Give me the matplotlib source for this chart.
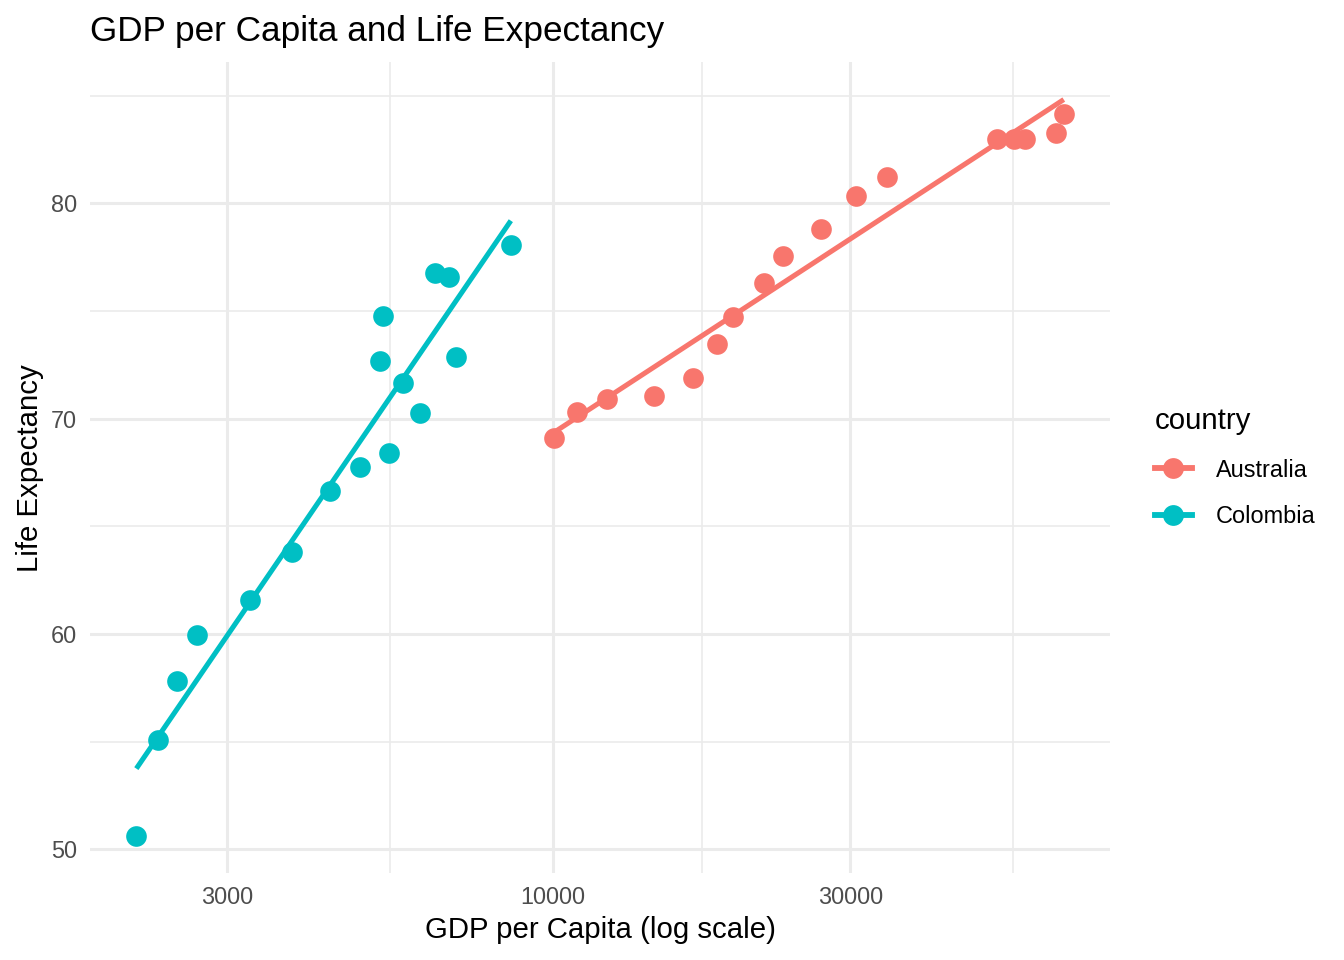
import numpy as np
import matplotlib.pyplot as plt
from matplotlib.lines import Line2D

plt.rcParams['font.family'] = ['Liberation Sans', 'DejaVu Sans']

# gdp per capita and life expectancy
aus_gdp = [10025, 10927, 12192, 14504, 16756, 18305, 19424, 21840, 23388,
           26915, 30590, 34356, 51696, 54906, 57272, 64217, 66046]
aus_life = [69.10, 70.31, 70.91, 71.07, 71.91, 73.47, 74.72, 76.32, 77.54,
            78.81, 80.36, 81.22, 82.97, 82.97, 82.97, 83.28, 84.17]

col_gdp = [2143, 2322, 2491, 2679, 3262, 3809, 4387, 4896, 5277, 5331,
           5444, 5744, 6112, 6461, 6803, 6998, 8555]
col_life = [50.62, 55.09, 57.83, 59.94, 61.60, 63.81, 66.63, 67.74, 72.68,
            74.77, 68.39, 71.65, 70.28, 76.78, 76.58, 72.86, 78.08]

countries = ['Australia', 'Colombia']
colors = {'Australia': '#F8766D', 'Colombia': '#00BFC4'}
data = {'Australia': (aus_gdp, aus_life), 'Colombia': (col_gdp, col_life)}

x_ticks = [3000, 10000, 30000]
x_minor = [5477, 17321, 54772]
y_ticks = [50, 60, 70, 80]
y_minor = [55, 65, 75, 85]


def main():
    fig = plt.figure(figsize=(7, 5), dpi=192)
    ax = fig.add_axes([0.067, 0.0906, 0.759, 0.8444])

    for name in countries:
        gdp, life = data[name]
        gdp = np.array(gdp, dtype=float)
        life = np.array(life)
        ax.scatter(gdp, life, s=60, color=colors[name], linewidths=0, zorder=3)
        slope, icpt = np.polyfit(np.log10(gdp), life, 1)
        xs = np.geomspace(gdp.min(), gdp.max(), 80)
        ax.plot(xs, slope * np.log10(xs) + icpt, color=colors[name],
                lw=1.9, zorder=4, solid_capstyle='butt')

    ax.set_xscale('log')
    ax.set_xlim(1806, 78400)
    ax.set_ylim(48.9, 86.55)

    ax.set_xticks(x_ticks)
    ax.set_xticklabels([str(t) for t in x_ticks])
    ax.set_xticks(x_minor, minor=True)
    ax.set_yticks(y_ticks)
    ax.set_yticklabels([str(t) for t in y_ticks])
    ax.set_yticks(y_minor, minor=True)
    ax.xaxis.set_minor_formatter(plt.NullFormatter())

    ax.grid(which='major', color='#EBEBEB', lw=1.15)
    ax.grid(which='minor', color='#EBEBEB', lw=0.6)
    ax.set_axisbelow(True)
    for s in ax.spines.values():
        s.set_visible(False)
    ax.tick_params(which='both', length=0, labelsize=8.8, labelcolor='#4D4D4D')
    ax.tick_params(axis='x', pad=5)
    ax.tick_params(axis='y', pad=5)

    ax.set_xlabel('GDP per Capita (log scale)', fontsize=11, labelpad=2.5)
    ax.set_ylabel('Life Expectancy', fontsize=11, labelpad=2.5)
    fig.text(0.067, 0.957, 'GDP per Capita and Life Expectancy', fontsize=13.2,
             ha='left', va='baseline')

    handles = [Line2D([], [], color=colors[c], lw=2.2, marker='o', markersize=7.8,
                      markeredgewidth=0) for c in countries]
    ax.legend(handles, countries, title='country', loc='center left',
              bbox_to_anchor=(1.023, 0.5), frameon=False, fontsize=8.8,
              title_fontsize=11, handlelength=1.6, handletextpad=1.0,
              labelspacing=1.0, alignment='left')

    fig.savefig('out.png', dpi=192, facecolor='white')


if __name__ == '__main__':
    main()
